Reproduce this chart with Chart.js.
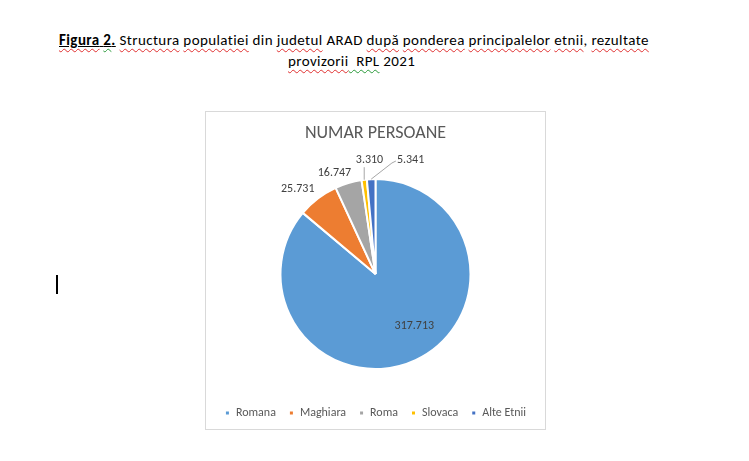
<!DOCTYPE html>
<html>
<head>
<meta charset="utf-8">
<script src="https://cdn.jsdelivr.net/npm/chart.js@4.4.0/dist/chart.umd.min.js"></script>
<style>
  body { margin: 0; background: #fff; width: 749px; height: 461px; overflow: hidden; position: relative; font-family: Calibri, Carlito, Lato, sans-serif; }
  .cap { position: absolute; font-size: 15px; letter-spacing: 0.4px; color: #000; white-space: pre; line-height: 21px; }
  .red { text-decoration: underline wavy #e03030; text-decoration-thickness: 1px; text-underline-offset: 3px; }
  .green { text-decoration: underline wavy #2a9a3a; text-decoration-thickness: 1px; text-underline-offset: 3px; }
  #box { position: absolute; left: 205px; top: 111px; width: 339px; height: 317px; border: 1px solid #d9d9d9; }
  #cursor { position: absolute; left: 56px; top: 275px; width: 2px; height: 19px; background: #000; }
</style>
</head>
<body>
<div class="cap" id="line1" style="left:59px; top:30px;"><b><u><span class="red">Figura</span> <span class="green">2</span>.</u></b> <span class="red">Structura</span> <span class="red">populatiei</span> din <span class="red">judetul</span> ARAD <span class="red">după</span> <span class="red">ponderea</span> <span class="red">principalelor</span> <span class="red">etnii</span>, <span class="red">rezultate</span></div>
<div class="cap" id="line2" style="left:288px; top:51px;"><span class="red">provizorii</span><span class="green">  RPL</span> 2021</div>
<div id="cursor"></div>
<div id="box"><canvas id="pieChart"></canvas></div>
<script>
const categories = ["Romana", "Maghiara", "Roma", "Slovaca", "Alte Etnii"];
const persons = [317713, 25731, 16747, 3310, 5341];
const valueLabels = ["317.713", "25.731", "16.747", "3.310", "5.341"];
const colors = ["#5B9BD5", "#ED7D31", "#A5A5A5", "#FFC000", "#4472C4"];

// label placement: angle shift from slice middle (deg), distance as share of radius, leader line
const labelPlace = [
    { shift: -12, dist: 0.68, leader: false },
    { shift: -5, dist: 1.215, leader: false },
    { shift: -5.5, dist: 1.147, leader: false },
    { shift: 3.8, dist: 1.2, leader: true },
    { shift: 19.7, dist: 1.256, leader: true }
];

const chartFont = "Calibri, Carlito, 'Open Sans', sans-serif";

const valueLabelPlugin = {
    id: "valueLabels",
    afterDatasetsDraw(chart) {
        const c = chart.ctx;
        const meta = chart.getDatasetMeta(0);
        c.save();
        c.font = "12px " + chartFont;
        c.textAlign = "center";
        c.textBaseline = "middle";
        meta.data.forEach((arc, i) => {
            const p = arc.getProps(["x", "y", "startAngle", "endAngle", "outerRadius"], true);
            const mid = (p.startAngle + p.endAngle) / 2;
            const place = labelPlace[i];
            const a = mid + place.shift * Math.PI / 180;
            const lx = p.x + Math.cos(a) * p.outerRadius * place.dist;
            const ly = p.y + Math.sin(a) * p.outerRadius * place.dist;
            if (place.leader) {
                const ex = p.x + Math.cos(mid) * p.outerRadius;
                const ey = p.y + Math.sin(mid) * p.outerRadius;
                const w = c.measureText(valueLabels[i]).width;
                c.strokeStyle = "#A6A6A6";
                c.lineWidth = 1;
                c.beginPath();
                c.moveTo(ex, ey);
                if (i === 3) {
                    c.lineTo(ex, ly + 7);
                } else {
                    c.lineTo(lx - w / 2 - 5, ly + 3);
                    c.lineTo(lx - w / 2 - 1, ly + 1);
                }
                c.stroke();
            }
            c.fillStyle = "#404040";
            c.fillText(valueLabels[i], lx, ly);
        });
        c.restore();
    }
};

const ctx = document.getElementById("pieChart").getContext("2d");
const pieChart = new Chart(ctx, {
    type: "pie",
    data: {
        labels: categories,
        datasets: [{
            data: persons,
            backgroundColor: colors,
            borderColor: "#ffffff",
            borderWidth: 2,
            radius: 95
        }]
    },
    options: {
        responsive: true,
        maintainAspectRatio: false,
        animation: false,
        layout: { padding: 0 },
        plugins: {
            title: {
                display: true,
                text: "NUMAR PERSOANE",
                color: "#595959",
                font: { size: 18, family: chartFont, weight: "normal" },
                padding: { top: 11, bottom: 9.5 }
            },
            legend: {
                position: "bottom",
                labels: {
                    color: "#595959",
                    boxWidth: 5,
                    boxHeight: 5,
                    padding: 13,
                    font: { size: 12, family: chartFont }
                }
            },
            tooltip: { enabled: false }
        }
    },
    plugins: [valueLabelPlugin]
});
</script>
</body>
</html>
